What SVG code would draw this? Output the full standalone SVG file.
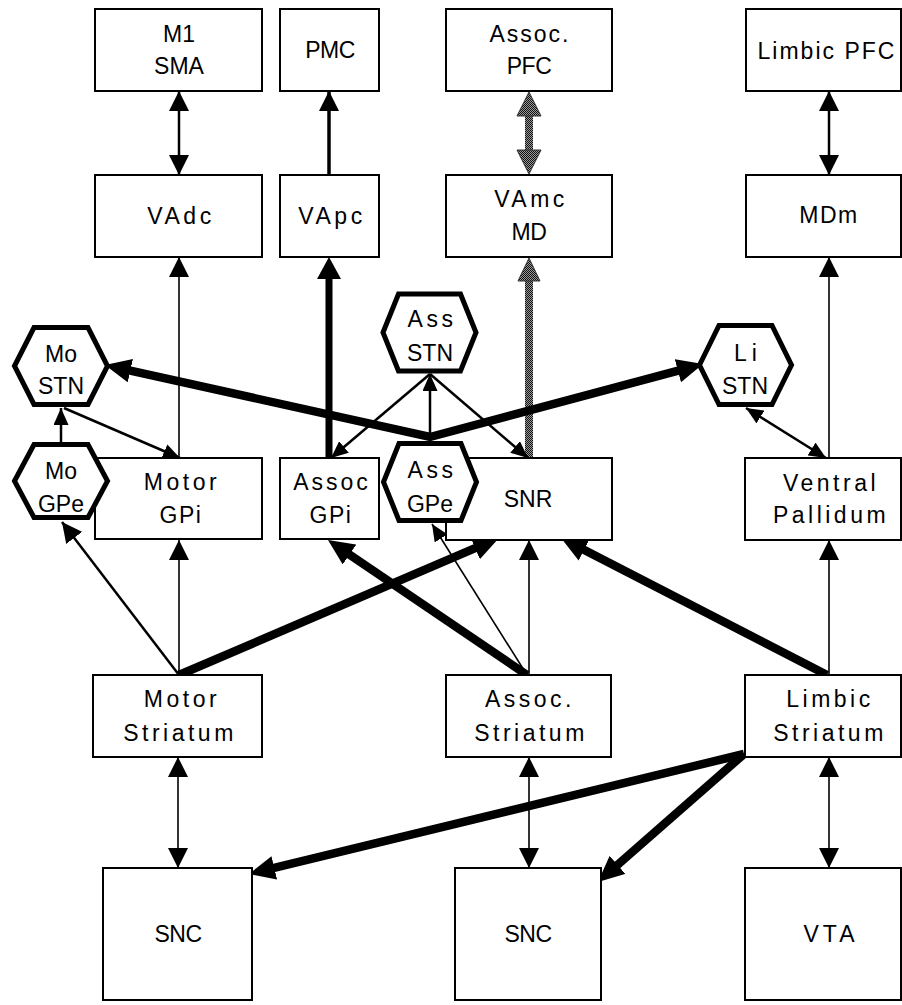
<svg xmlns="http://www.w3.org/2000/svg" width="902" height="1005" viewBox="0 0 902 1005">
<style>
.box{fill:#fff;stroke:#000;stroke-width:2}
.hex{fill:#fff;stroke:#000;stroke-width:5;stroke-linejoin:miter}
.t{font-family:"Liberation Sans",Arial,sans-serif;font-size:23px;text-anchor:middle;fill:#000}
.w{letter-spacing:3.5px}
.m{letter-spacing:1.5px}
.n{letter-spacing:-0.5px}
.c{fill:none;stroke:#000}
.th{stroke-width:1.6}
.md{stroke-width:2.5}
.kk{stroke-width:8.5;stroke-linejoin:miter}
.gr{fill:url(#dot)}
.grh{fill:url(#dot);stroke:#333;stroke-width:1}
</style>
<defs>
<pattern id="dot" width="2" height="2" patternUnits="userSpaceOnUse">
<rect width="2" height="2" fill="#9a9a9a"/>
<rect width="1" height="1" fill="#111"/>
<rect x="1" y="1" width="1" height="1" fill="#111"/>
</pattern>
<marker id="a" markerUnits="userSpaceOnUse" markerWidth="20" markerHeight="20" viewBox="0 0 20 20" refX="20" refY="10" orient="auto-start-reverse"><path d="M0,0 L20,10 L0,20 z" fill="#000"/></marker>
<marker id="s" markerUnits="userSpaceOnUse" markerWidth="17" markerHeight="15" viewBox="0 0 17 15" refX="17" refY="7.5" orient="auto-start-reverse"><path d="M0,0 L17,7.5 L0,15 z" fill="#000"/></marker>
<marker id="b" markerUnits="userSpaceOnUse" markerWidth="22" markerHeight="24" viewBox="0 0 22 24" refX="14" refY="12" orient="auto-start-reverse"><path d="M0,0 L22,12 L0,24 z" fill="#000"/></marker>
<marker id="k" markerUnits="userSpaceOnUse" markerWidth="26" markerHeight="24" viewBox="0 0 26 24" refX="14" refY="12" orient="auto-start-reverse"><path d="M0,0 L26,12 L0,24 z" fill="#000"/></marker>
</defs>

<g id="connectors">
<!-- gray dithered -->
<rect class="gr" x="525" y="113" width="8" height="40"/>
<polygon class="grh" points="529,92 541,116 517,116"/>
<polygon class="grh" points="529,174 541,150 517,150"/>
<rect class="gr" x="525" y="278" width="8" height="180"/>
<polygon class="grh" points="529,258 540,281 518,281"/>
<!-- top row -->
<line class="c md" x1="179" y1="91" x2="179" y2="175" marker-start="url(#a)" marker-end="url(#a)"/>
<line class="c md" x1="829" y1="91" x2="829" y2="175" marker-start="url(#a)" marker-end="url(#a)"/>
<line class="c" stroke-width="3.5" x1="329" y1="175" x2="329" y2="91" marker-end="url(#a)"/>
<!-- to thalamus -->
<line class="c" stroke-width="7" x1="329" y1="458" x2="329" y2="265" marker-end="url(#b)"/>
<line class="c th" x1="179" y1="458" x2="179" y2="257" marker-end="url(#a)"/>
<line class="c th" x1="829" y1="458" x2="829" y2="257" marker-end="url(#a)"/>
<!-- STN / GPe -->
<line class="c md" x1="61" y1="442" x2="61" y2="408" marker-end="url(#s)"/>
<line class="c md" x1="64" y1="408" x2="180" y2="458" marker-end="url(#s)"/>
<line class="c md" x1="430" y1="374" x2="331" y2="458" marker-end="url(#s)"/>
<line class="c md" x1="430" y1="441" x2="430" y2="374" marker-end="url(#s)"/>
<line class="c md" x1="430" y1="374" x2="528" y2="458" marker-end="url(#s)"/>
<line class="c md" x1="746" y1="408" x2="826" y2="458" marker-start="url(#s)" marker-end="url(#s)"/>
<!-- striatum up -->
<line class="c th" x1="179" y1="675" x2="179" y2="540" marker-end="url(#a)"/>
<line class="c md" x1="179" y1="675" x2="62" y2="522" marker-end="url(#a)"/>
<line class="c th" x1="527" y1="675" x2="432" y2="524" marker-end="url(#s)"/>
<line class="c th" x1="529" y1="675" x2="529" y2="540" marker-end="url(#a)"/>
<line class="c th" x1="829" y1="675" x2="829" y2="540" marker-end="url(#a)"/>
<!-- striatum down -->
<line class="c th" x1="178" y1="757" x2="178" y2="868" marker-start="url(#a)" marker-end="url(#a)"/>
<line class="c th" x1="529" y1="757" x2="529" y2="868" marker-start="url(#a)" marker-end="url(#a)"/>
<line class="c th" x1="829" y1="757" x2="829" y2="868" marker-start="url(#a)" marker-end="url(#a)"/>
<!-- thick black -->
<path class="c kk" d="M116.7,367.6 L430,437 L691.4,367.1" marker-start="url(#k)" marker-end="url(#k)"/>
<path class="c kk" d="M179,675 L488,542.7" marker-end="url(#k)"/>
<path class="c kk" d="M527,675 L337.9,546.7" marker-end="url(#k)"/>
<path class="c kk" d="M827,675 L571.7,543.5" marker-end="url(#k)"/>
<path class="c kk" d="M744,754 L260.7,871.2" marker-end="url(#k)"/>
<path class="c kk" d="M744,754 L607,874.1" marker-end="url(#k)"/>
</g>

<g id="n-m1sma"><rect class="box" x="95" y="9" width="167" height="82"/><text class="t" x="179" y="42">M1</text><text class="t" x="179" y="74">SMA</text></g>
<g id="n-pmc"><rect class="box" x="280" y="9" width="99" height="82"/><text class="t n" x="330" y="58">PMC</text></g>
<g id="n-assocpfc"><rect class="box" x="446" y="9" width="166" height="82"/><text class="t" style="letter-spacing:2px" x="530" y="42">Assoc.</text><text class="t n" x="529" y="74">PFC</text></g>
<g id="n-limbicpfc"><rect class="box" x="746" y="9" width="155" height="82"/><text class="t" style="letter-spacing:2px" x="827" y="59">Limbic PFC</text></g>
<g id="n-vadc"><rect class="box" x="95" y="175" width="167" height="82"/><text class="t w" x="181" y="224">VAdc</text></g>
<g id="n-vapc"><rect class="box" x="280" y="175" width="99" height="82"/><text class="t w" x="332" y="224">VApc</text></g>
<g id="n-vamc"><rect class="box" x="446" y="175" width="166" height="82"/><text class="t w" x="531" y="207">VAmc</text><text class="t n" x="529" y="240">MD</text></g>
<g id="n-mdm"><rect class="box" x="746" y="175" width="155" height="82"/><text class="t m" x="829" y="223">MDm</text></g>

<g id="n-motorgpi"><rect class="box" x="95" y="458" width="167" height="81"/><text class="t w" x="182" y="490">Motor</text><text class="t m" x="181" y="523">GPi</text></g>
<g id="n-assocgpi"><rect class="box" x="280" y="458" width="99" height="81"/><text class="t" style="letter-spacing:3px" x="332" y="490">Assoc</text><text class="t m" x="331" y="523">GPi</text></g>
<g id="n-snr"><rect class="box" x="446" y="458" width="166" height="82"/><text class="t" x="528" y="507">SNR</text></g>
<g id="n-vp"><rect class="box" x="745" y="458" width="156" height="82"/><text class="t w" x="831" y="491">Ventral</text><text class="t w" x="831" y="523">Pallidum</text></g>

<g id="n-mostn"><path class="hex" d="M14.5,366 L34,327.5 L88,327.5 L107.5,366 L88,404.5 L34,404.5 Z"/><text class="t" x="61" y="362">Mo</text><text class="t" x="61" y="394">STN</text></g>
<g id="n-mogpe"><path class="hex" d="M14.5,481 L34,444.5 L88,444.5 L107.5,481 L88,517.5 L34,517.5 Z"/><text class="t" x="61" y="479">Mo</text><text class="t" x="61" y="512">GPe</text></g>
<g id="n-assstn"><path class="hex" d="M383,332.5 L398.5,294 L460.5,294 L476,332.5 L460.5,371 L398.5,371 Z"/><text class="t w" x="432" y="327">Ass</text><text class="t" x="430" y="361">STN</text></g>
<g id="n-assgpe"><path class="hex" d="M383.5,482 L399,443.5 L461,443.5 L476.5,482 L461,520.5 L399,520.5 Z"/><text class="t w" x="432" y="478">Ass</text><text class="t" x="430" y="512">GPe</text></g>
<g id="n-listn"><path class="hex" d="M699.5,365 L719,325.5 L772,325.5 L791.5,365 L772,404.5 L719,404.5 Z"/><text class="t" style="letter-spacing:5px" x="748" y="361">Li</text><text class="t" x="745" y="394">STN</text></g>

<g id="n-motorstr"><rect class="box" x="93" y="675" width="169" height="82"/><text class="t w" x="182" y="707">Motor</text><text class="t w" x="180" y="741">Striatum</text></g>
<g id="n-assocstr"><rect class="box" x="446" y="675" width="165" height="82"/><text class="t w" x="530" y="707">Assoc.</text><text class="t w" x="531" y="741">Striatum</text></g>
<g id="n-limbicstr"><rect class="box" x="745" y="675" width="156" height="82"/><text class="t w" x="830" y="707">Limbic</text><text class="t w" x="830" y="741">Striatum</text></g>

<g id="n-snc1"><rect class="box" x="103" y="868" width="149" height="132"/><text class="t n" x="178" y="942">SNC</text></g>
<g id="n-snc2"><rect class="box" x="455" y="868" width="146" height="132"/><text class="t n" x="528" y="942">SNC</text></g>
<g id="n-vta"><rect class="box" x="745" y="868" width="156" height="132"/><text class="t" style="letter-spacing:4px" x="831" y="942">VTA</text></g>
</svg>
